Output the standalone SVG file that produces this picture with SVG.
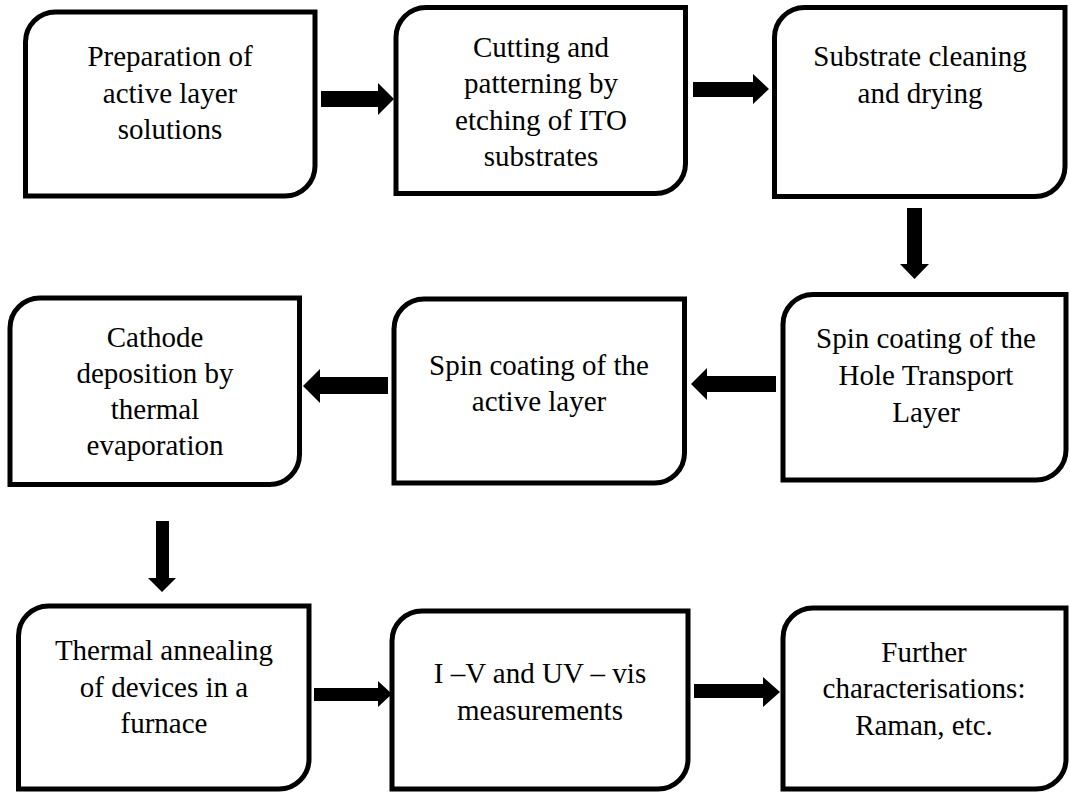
<svg xmlns="http://www.w3.org/2000/svg" width="1070" height="794" viewBox="0 0 1070 794">
<style>
.box{fill:#fff;stroke:#000;stroke-width:5}
.t{font-family:"Liberation Serif","Times New Roman",serif;font-size:29px;fill:#000;text-anchor:middle}
.arr{fill:#000}
</style>
<rect width="1070" height="794" fill="#fff"/>
<g id="n1"><path class="box" d="M25.5,42 A30,30 0 0 1 55.5,12 H315 V166 A30,30 0 0 1 285,196 H25.5 Z"/>
<text class="t" x="170" y="66">Preparation of</text><text class="t" x="170" y="103">active layer</text><text class="t" x="170" y="139">solutions</text></g>
<g id="n2"><path class="box" d="M396,37.5 A30,30 0 0 1 426,7.5 H685.5 V163.5 A30,30 0 0 1 655.5,193.5 H396 Z"/>
<text class="t" x="541" y="57">Cutting and</text><text class="t" x="541" y="93">patterning by</text><text class="t" x="541" y="130">etching of ITO</text><text class="t" x="541" y="166">substrates</text></g>
<g id="n3"><path class="box" d="M774.5,37.5 A30,30 0 0 1 804.5,7.5 H1065 V166.5 A30,30 0 0 1 1035,196.5 H774.5 Z"/>
<text class="t" x="920" y="66">Substrate cleaning</text><text class="t" x="920" y="103">and drying</text></g>
<g id="n4"><path class="box" d="M783,324.5 A30,30 0 0 1 813,294.5 H1066 V450 A30,30 0 0 1 1036,480 H783 Z"/>
<text class="t" x="926" y="348">Spin coating of the</text><text class="t" x="926" y="385">Hole Transport</text><text class="t" x="926" y="422">Layer</text></g>
<g id="n5"><path class="box" d="M394,329 A30,30 0 0 1 424,299 H684.5 V453 A30,30 0 0 1 654.5,483 H394 Z"/>
<text class="t" x="539" y="375">Spin coating of the</text><text class="t" x="539" y="411">active layer</text></g>
<g id="n6"><path class="box" d="M10,328 A30,30 0 0 1 40,298 H299.5 V454.5 A30,30 0 0 1 269.5,484.5 H10 Z"/>
<text class="t" x="155" y="347">Cathode</text><text class="t" x="155" y="383">deposition by</text><text class="t" x="155" y="419">thermal</text><text class="t" x="155" y="455">evaporation</text></g>
<g id="n7"><path class="box" d="M18.5,636 A30,30 0 0 1 48.5,606 H309 V759 A30,30 0 0 1 279,789 H18.5 Z"/>
<text class="t" x="164" y="660">Thermal annealing</text><text class="t" x="164" y="697">of devices in a</text><text class="t" x="164" y="733">furnace</text></g>
<g id="n8"><path class="box" d="M392,641 A30,30 0 0 1 422,611 H688 V759 A30,30 0 0 1 658,789 H392 Z"/>
<text class="t" x="540" y="683">I –V and UV – vis</text><text class="t" x="540" y="720">measurements</text></g>
<g id="n9"><path class="box" d="M783,638 A30,30 0 0 1 813,608 H1066 V759 A30,30 0 0 1 1036,789 H783 Z"/>
<text class="t" x="924" y="662">Further</text><text class="t" x="924" y="698">characterisations:</text><text class="t" x="924" y="735">Raman, etc.</text></g>
<g id="connectors">
<polygon class="arr" points="321,91 378,91 378,83 394,99 378,115 378,107 321,107"/>
<polygon class="arr" points="693,82 753,82 753,74 769,89 753,104 753,97 693,97"/>
<polygon class="arr" points="907,208 922,208 922,264 929,264 914.5,279 900,264 907,264"/>
<polygon class="arr" points="776,376 707,376 707,368 691,384 707,400 707,392 776,392"/>
<polygon class="arr" points="388,377 320,377 320,369 303,386 320,403 320,394 388,394"/>
<polygon class="arr" points="156,521 169,521 169,578 176,578 162,592 148,578 156,578"/>
<polygon class="arr" points="314,688 378,688 378,681 392,694 378,707 378,701 314,701"/>
<polygon class="arr" points="694,684 763,684 763,677 780,692 763,707 763,698 694,698"/>
</g>
</svg>
